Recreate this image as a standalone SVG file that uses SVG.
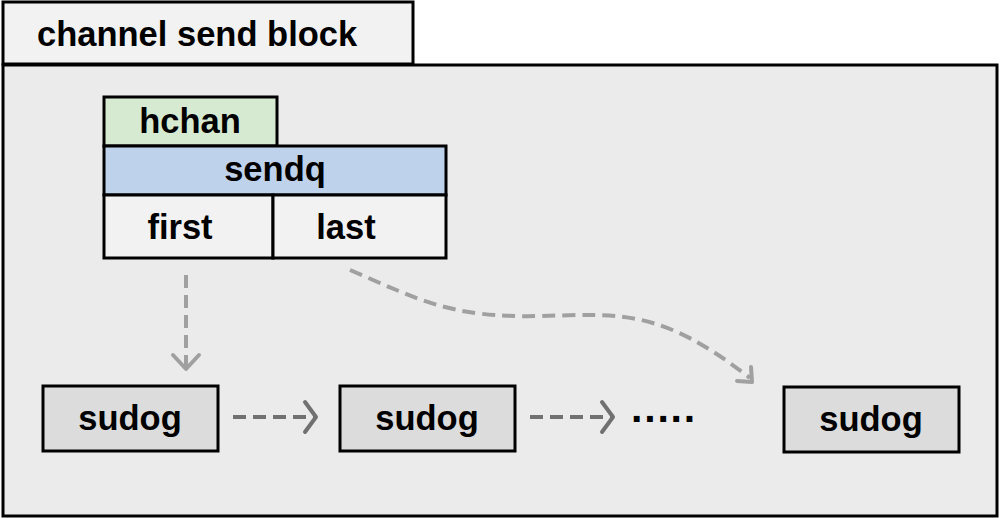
<svg xmlns="http://www.w3.org/2000/svg" width="1000" height="518" viewBox="0 0 1000 518">
<style>
text{font-family:"Liberation Sans",Arial,sans-serif;font-weight:bold;font-size:34.5px;fill:#000;}
.box{stroke:#000;stroke-width:3;}
.lt{stroke:#a0a0a0;stroke-width:4;fill:none;stroke-dasharray:13 7;}
.dk{stroke:#717171;stroke-width:4;fill:none;stroke-dasharray:13 7;}
.hl{stroke:#a0a0a0;stroke-width:4;fill:none;stroke-linecap:round;stroke-linejoin:round;}
.hd{stroke:#717171;stroke-width:4;fill:none;stroke-linecap:round;stroke-linejoin:round;}
</style>
<rect width="1000" height="518" fill="#ffffff"/>
<g id="container">
<rect class="box" x="3" y="65" width="994" height="451" fill="#ebebeb"/>
<rect class="box" x="3" y="2" width="410" height="62" fill="#f2f2f2"/>
<text x="37" y="46">channel send block</text>
</g>
<g id="hchan">
<rect class="box" x="104" y="97" width="173" height="49" fill="#d5ead0"/>
<text x="190" y="133" text-anchor="middle">hchan</text>
</g>
<g id="sendq">
<rect class="box" x="104" y="146" width="342" height="49" fill="#bed2eb"/>
<text x="275" y="181" text-anchor="middle">sendq</text>
</g>
<g id="first">
<rect class="box" x="104" y="195" width="169" height="63" fill="#f2f2f2"/>
<text x="180" y="239" text-anchor="middle">first</text>
</g>
<g id="last">
<rect class="box" x="273" y="195" width="173" height="63" fill="#f2f2f2"/>
<text x="346" y="239" text-anchor="middle">last</text>
</g>
<g id="sudog1">
<rect class="box" x="43" y="386" width="175" height="65" fill="#dcdcdc"/>
<text x="130" y="430" text-anchor="middle">sudog</text>
</g>
<g id="sudog2">
<rect class="box" x="340" y="386" width="175" height="65" fill="#dcdcdc"/>
<text x="427" y="430" text-anchor="middle">sudog</text>
</g>
<g id="ellipsis">
<text x="631" y="422" style="font-size:41px;letter-spacing:1.8px">.....</text>
</g>
<g id="sudog3">
<rect class="box" x="784" y="387" width="175" height="65" fill="#dcdcdc"/>
<text x="871" y="431" text-anchor="middle">sudog</text>
</g>
<g id="connectors">
<path class="lt" d="M186 275 V368"/>
<path class="hl" d="M173 355 L186 369 L199 355"/>
<path class="lt" d="M350 270 C420 300 450 318 540 316 C620 314 660 308 750 378"/>
<path class="hl" d="M737 381 L752 382 L751 367"/>
<path class="dk" d="M233 417 H314"/>
<path class="hd" d="M305 402 L316 417 L305 432"/>
<path class="dk" d="M530 417 H611"/>
<path class="hd" d="M602 402 L613 417 L602 432"/>
</g>
</svg>
